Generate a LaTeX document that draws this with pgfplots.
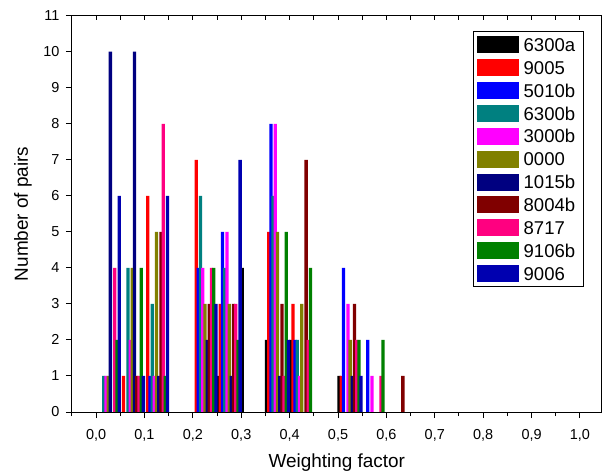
\documentclass[border=0pt]{standalone}
\usepackage{pgfplots}
\usepackage{pgfplotstable}
\pgfplotsset{compat=1.18}
\usepackage{fontspec}
\setmainfont{Liberation Sans}
\definecolor{c0}{HTML}{000000}
\definecolor{c1}{HTML}{FF0000}
\definecolor{c2}{HTML}{0000FF}
\definecolor{c3}{HTML}{008080}
\definecolor{c4}{HTML}{FF00FF}
\definecolor{c5}{HTML}{808000}
\definecolor{c6}{HTML}{000080}
\definecolor{c7}{HTML}{800000}
\definecolor{c8}{HTML}{FF0080}
\definecolor{c9}{HTML}{008000}
\definecolor{c10}{HTML}{0000B0}
\pgfplotsset{mybar/.style={ybar, bar width=0.0068, bar shift=0pt, draw=none, fill=#1,
  restrict y to domain=0.5:20,
  legend image code/.code={\fill[##1] (0bp,-8.5bp) rectangle (42bp,8.5bp);}}}
% bin start, then counts for the 11 series (legend order)
\pgfplotstableread{
bin  s0 s1 s2 s3 s4 s5 s6 s7 s8 s9 s10
0.00 0  0  0  1  1  1  10 0  4  2  6
0.05 0  1  0  4  2  4  10 1  1  4  1
0.10 0  6  1  3  1  5  1  5  8  1  6
0.20 0  7  4  6  4  3  2  3  4  4  3
0.25 1  3  5  4  5  3  1  3  3  2  7
0.30 4  0  0  0  0  0  0  0  0  0  0
0.35 2  5  8  6  8  5  1  3  1  5  2
0.40 2  3  2  2  1  3  0  7  2  4  0
0.50 1  1  4  0  3  2  1  3  2  2  1
0.55 0  0  2  0  1  0  0  0  1  2  0
0.60 0  0  0  0  0  0  0  1  0  0  0
}\bins
\begin{document}
\begin{tikzpicture}
\useasboundingbox (-71.9bp,-60bp) rectangle (533.1bp,412bp);
\begin{axis}[at={(0,0)}, anchor=south west, scale only axis,
  width=529.8bp, height=396.3bp,
  xmin=-0.05, xmax=1.045, ymin=0, ymax=11,
  xtick={0,0.1,0.2,0.3,0.4,0.5,0.6,0.7,0.8,0.9,1.0},
  minor xtick={-0.05,0.05,0.15,0.25,0.35,0.45,0.55,0.65,0.75,0.85,0.95},
  ytick={0,1,2,3,4,5,6,7,8,9,10,11},
  xtick pos=bottom, ytick pos=left, tick align=outside,
  major tick length=6bp, minor tick length=4bp,
  axis line style={line width=1bp},
  tick style={line width=1bp, black},
  ticklabel style={font=\fontsize{14.5}{14.5}\selectfont},
  /pgf/number format/assume math mode=true,
  xticklabel style={yshift=-8bp, /pgf/number format/.cd, fixed, fixed zerofill, precision=1, use comma},
  yticklabel style={xshift=-3bp},
  xlabel={Weighting factor}, ylabel={Number of pairs},
  every axis x label/.style={at={(rel axis cs:0.5,0)}, yshift=-51bp, anchor=center, font=\fontsize{19}{19}\selectfont},
  every axis y label/.style={at={(rel axis cs:0,0.5)}, xshift=-49bp, rotate=90, anchor=center, font=\fontsize{19}{19}\selectfont},
  legend style={at={(0.967,0.961)}, anchor=north east, draw=black, line width=0.8bp, fill=white,
    font=\fontsize{18.6}{18.6}\selectfont, row sep=5.9bp, inner xsep=3.6bp, inner ysep=4.6bp,
    nodes={inner xsep=5bp, inner ysep=0pt, text height=13.4bp, text depth=0bp}},
  legend cell align=left,
]
\addplot[mybar=c0]  table[x expr=\thisrow{bin}+0.00227, y=s0] {\bins};
\addplot[mybar=c1]  table[x expr=\thisrow{bin}+0.00227+1*0.004545, y=s1] {\bins};
\addplot[mybar=c2]  table[x expr=\thisrow{bin}+0.00227+2*0.004545, y=s2] {\bins};
\addplot[mybar=c3]  table[x expr=\thisrow{bin}+0.00227+3*0.004545, y=s3] {\bins};
\addplot[mybar=c4]  table[x expr=\thisrow{bin}+0.00227+4*0.004545, y=s4] {\bins};
\addplot[mybar=c5]  table[x expr=\thisrow{bin}+0.00227+5*0.004545, y=s5] {\bins};
\addplot[mybar=c6]  table[x expr=\thisrow{bin}+0.00227+6*0.004545, y=s6] {\bins};
\addplot[mybar=c7]  table[x expr=\thisrow{bin}+0.00227+7*0.004545, y=s7] {\bins};
\addplot[mybar=c8]  table[x expr=\thisrow{bin}+0.00227+8*0.004545, y=s8] {\bins};
\addplot[mybar=c9]  table[x expr=\thisrow{bin}+0.00227+9*0.004545, y=s9] {\bins};
\addplot[mybar=c10] table[x expr=\thisrow{bin}+0.00227+10*0.004545, y=s10] {\bins};
\legend{6300a,9005,5010b,6300b,3000b,0000,1015b,8004b,8717,9106b,9006}
\end{axis}
\begin{axis}[at={(0,0)}, anchor=south west, scale only axis,
  width=529.8bp, height=396.3bp,
  xmin=-0.05, xmax=1.045, ymin=0, ymax=11,
  xtick={0,0.1,0.2,0.3,0.4,0.5,0.6,0.7,0.8,0.9,1.0},
  minor xtick={-0.05,0.05,0.15,0.25,0.35,0.45,0.55,0.65,0.75,0.85,0.95},
  xticklabels=\empty, ytick=\empty,
  xtick pos=top, tick align=inside,
  major tick length=4bp, minor tick length=4bp,
  axis line style={line width=1bp},
  tick style={line width=1bp, black},
]
\end{axis}
\end{tikzpicture}
\end{document}
